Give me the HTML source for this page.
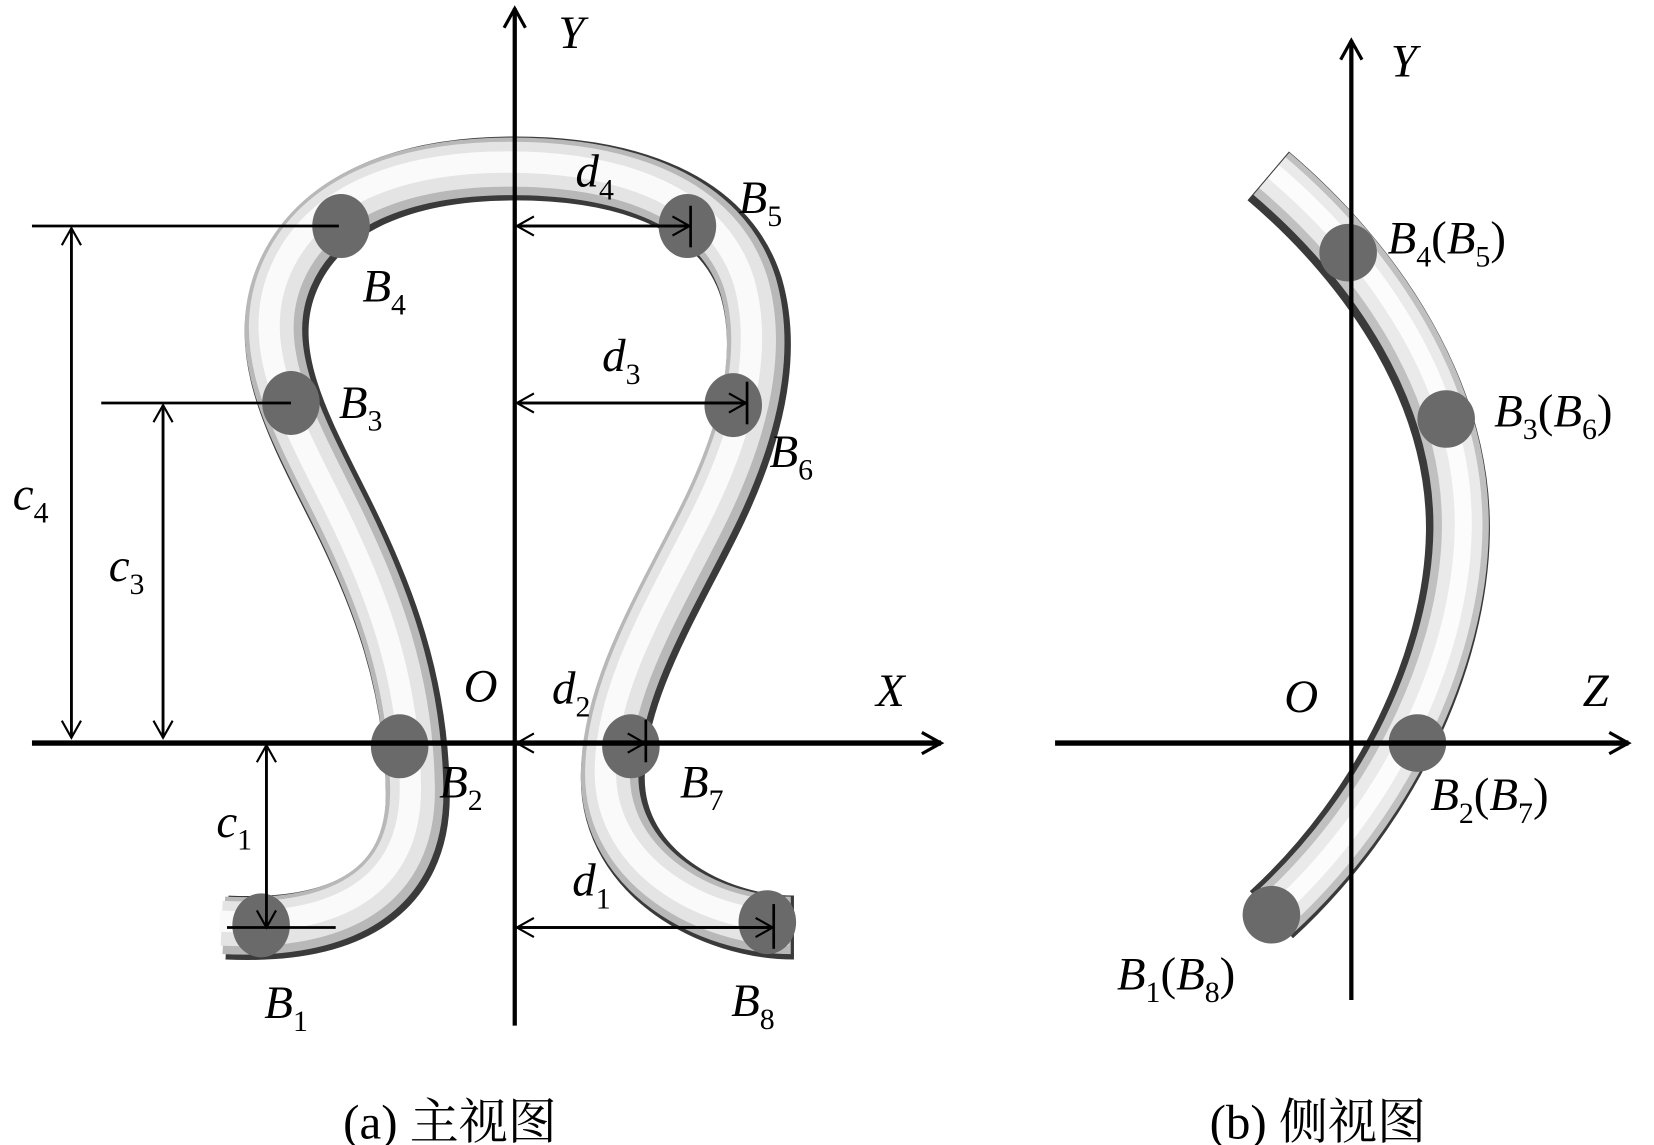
<!DOCTYPE html>
<html><head><meta charset="utf-8"><style>html,body{margin:0;padding:0;background:#fff}svg{display:block}
.t{font-family:"Liberation Serif","Noto Serif CJK SC",serif;}</style></head>
<body>
<svg width="1654" height="1145" viewBox="0 0 1552 1074" preserveAspectRatio="none" xmlns="http://www.w3.org/2000/svg">
<defs>
<marker id="ah" markerWidth="24" markerHeight="24" refX="20" refY="12" orient="auto" markerUnits="userSpaceOnUse"><path d="M2,2 L20,12 L2,22" fill="none" stroke="#000" stroke-width="3"/></marker>
<marker id="oa" markerWidth="24" markerHeight="24" refX="20" refY="12" orient="auto" markerUnits="userSpaceOnUse"><path d="M4,3 L20,12 L4,21" fill="none" stroke="#000" stroke-width="2"/></marker>
<path id="lt" d="M213,870 C320,875 395,840 392,740 C390,640 360,560 320,480 C280,400 240,330 270,260 C300,190 380,158 483,158 C590,158 680,190 705,270 C725,340 700,420 665,490 C625,570 575,650 575,730 C575,820 670,870 745,870"/>
<path id="rt" d="M1190,165 C1290,250 1370,370 1368,500 C1366,620 1300,760 1193,858"/>
</defs>
<g fill="none" stroke-linecap="butt" stroke-linejoin="round">
<use href="#lt" stroke="#3a3a3a" stroke-width="60"/>
<use href="#lt" stroke="#b8b8b8" stroke-width="54" transform="translate(-3,-2)"/>
<use href="#lt" stroke="#e4e4e4" stroke-width="42" transform="translate(-5,-4)"/>
<use href="#lt" stroke="#fafafa" stroke-width="20" transform="translate(-7,-6)"/>
<use href="#rt" stroke="#3a3a3a" stroke-width="60"/>
<use href="#rt" stroke="#c0c0c0" stroke-width="52" transform="translate(3,-2)"/>
<use href="#rt" stroke="#eaeaea" stroke-width="38" transform="translate(4,-3)"/>
<use href="#rt" stroke="#fcfcfc" stroke-width="16" transform="translate(5,-4)"/>
</g>
<g fill="#6a6a6a">
<ellipse cx="245" cy="868" rx="27" ry="30"/><ellipse cx="375" cy="700" rx="27" ry="30"/>
<ellipse cx="273" cy="378" rx="27" ry="30"/><ellipse cx="320" cy="212" rx="27" ry="30"/>
<ellipse cx="645" cy="212" rx="27" ry="30"/><ellipse cx="688" cy="380" rx="27" ry="30"/>
<ellipse cx="592" cy="700" rx="27" ry="30"/><ellipse cx="720" cy="865" rx="27" ry="30"/>
<circle cx="1265" cy="237" r="27"/><circle cx="1357" cy="393" r="27"/>
<circle cx="1330" cy="697" r="27"/><circle cx="1193" cy="858" r="27"/>
</g>
<g stroke="#000" fill="none">
<line x1="483" y1="962" x2="483" y2="8" stroke-width="4" marker-end="url(#ah)"/>
<line x1="30" y1="697" x2="883" y2="697" stroke-width="5" marker-end="url(#ah)"/>
<line x1="1268" y1="938" x2="1268" y2="38" stroke-width="4" marker-end="url(#ah)"/>
<line x1="990" y1="697" x2="1528" y2="697" stroke-width="5" marker-end="url(#ah)"/>
<g stroke-width="2.5">
<line x1="30" y1="212" x2="318" y2="212"/>
<line x1="67" y1="690" x2="67" y2="214" marker-end="url(#oa)"/><line x1="67" y1="216" x2="67" y2="692" marker-end="url(#oa)"/>
<line x1="95" y1="378" x2="273" y2="378"/>
<line x1="153" y1="690" x2="153" y2="380" marker-end="url(#oa)"/><line x1="153" y1="382" x2="153" y2="692" marker-end="url(#oa)"/>
<line x1="250" y1="868" x2="250" y2="699" marker-end="url(#oa)"/><line x1="250" y1="701" x2="250" y2="870" marker-end="url(#oa)"/>
<line x1="213" y1="870" x2="315" y2="870"/>
<line x1="645" y1="212" x2="485" y2="212" marker-end="url(#oa)"/><line x1="487" y1="212" x2="647" y2="212" marker-end="url(#oa)"/><line x1="648" y1="193" x2="648" y2="232"/>
<line x1="698" y1="378" x2="485" y2="378" marker-end="url(#oa)"/><line x1="487" y1="378" x2="700" y2="378" marker-end="url(#oa)"/><line x1="701" y1="358" x2="701" y2="398"/>
<line x1="603" y1="697" x2="485" y2="697" marker-end="url(#oa)"/><line x1="487" y1="697" x2="605" y2="697" marker-end="url(#oa)"/><line x1="606" y1="675" x2="606" y2="715"/>
<line x1="723" y1="870" x2="485" y2="870" marker-end="url(#oa)"/><line x1="487" y1="870" x2="725" y2="870" marker-end="url(#oa)"/><line x1="726" y1="848" x2="726" y2="890"/>
</g>
</g>
<g class="t" font-style="italic" font-size="44" fill="#000">
<text x="524" y="45">Y</text><text x="1305" y="72">Y</text>
<text x="822" y="662">X</text><text x="1485" y="662">Z</text>
<text x="435" y="658">O</text><text x="1205" y="668">O</text>
<text x="540" y="175">d<tspan font-size="28" font-style="normal" dy="12">4</tspan></text>
<text x="565" y="348">d<tspan font-size="28" font-style="normal" dy="12">3</tspan></text>
<text x="518" y="660">d<tspan font-size="28" font-style="normal" dy="12">2</tspan></text>
<text x="537" y="840">d<tspan font-size="28" font-style="normal" dy="12">1</tspan></text>
<text x="12" y="478">c<tspan font-size="28" font-style="normal" dy="12">4</tspan></text>
<text x="102" y="545">c<tspan font-size="28" font-style="normal" dy="12">3</tspan></text>
<text x="203" y="785">c<tspan font-size="28" font-style="normal" dy="12">1</tspan></text>
<text x="693" y="200">B<tspan font-size="28" font-style="normal" dy="12">5</tspan></text>
<text x="340" y="283">B<tspan font-size="28" font-style="normal" dy="12">4</tspan></text>
<text x="318" y="392">B<tspan font-size="28" font-style="normal" dy="12">3</tspan></text>
<text x="722" y="438">B<tspan font-size="28" font-style="normal" dy="12">6</tspan></text>
<text x="412" y="748">B<tspan font-size="28" font-style="normal" dy="12">2</tspan></text>
<text x="638" y="748">B<tspan font-size="28" font-style="normal" dy="12">7</tspan></text>
<text x="248" y="955">B<tspan font-size="28" font-style="normal" dy="12">1</tspan></text>
<text x="686" y="953">B<tspan font-size="28" font-style="normal" dy="12">8</tspan></text>
<text x="1302" y="238">B<tspan font-size="28" font-style="normal" dy="12">4</tspan><tspan font-style="normal" dy="-12">(</tspan>B<tspan font-size="28" font-style="normal" dy="12">5</tspan><tspan font-style="normal" dy="-12">)</tspan></text>
<text x="1402" y="400">B<tspan font-size="28" font-style="normal" dy="12">3</tspan><tspan font-style="normal" dy="-12">(</tspan>B<tspan font-size="28" font-style="normal" dy="12">6</tspan><tspan font-style="normal" dy="-12">)</tspan></text>
<text x="1342" y="760">B<tspan font-size="28" font-style="normal" dy="12">2</tspan><tspan font-style="normal" dy="-12">(</tspan>B<tspan font-size="28" font-style="normal" dy="12">7</tspan><tspan font-style="normal" dy="-12">)</tspan></text>
<text x="1048" y="928">B<tspan font-size="28" font-style="normal" dy="12">1</tspan><tspan font-style="normal" dy="-12">(</tspan>B<tspan font-size="28" font-style="normal" dy="12">8</tspan><tspan font-style="normal" dy="-12">)</tspan></text>
</g>
<g class="t" font-size="46" fill="#000">
<text x="322" y="1068">(a) 主视图</text>
<text x="1135" y="1068">(b) 侧视图</text>
</g>
</svg>
</body></html>
